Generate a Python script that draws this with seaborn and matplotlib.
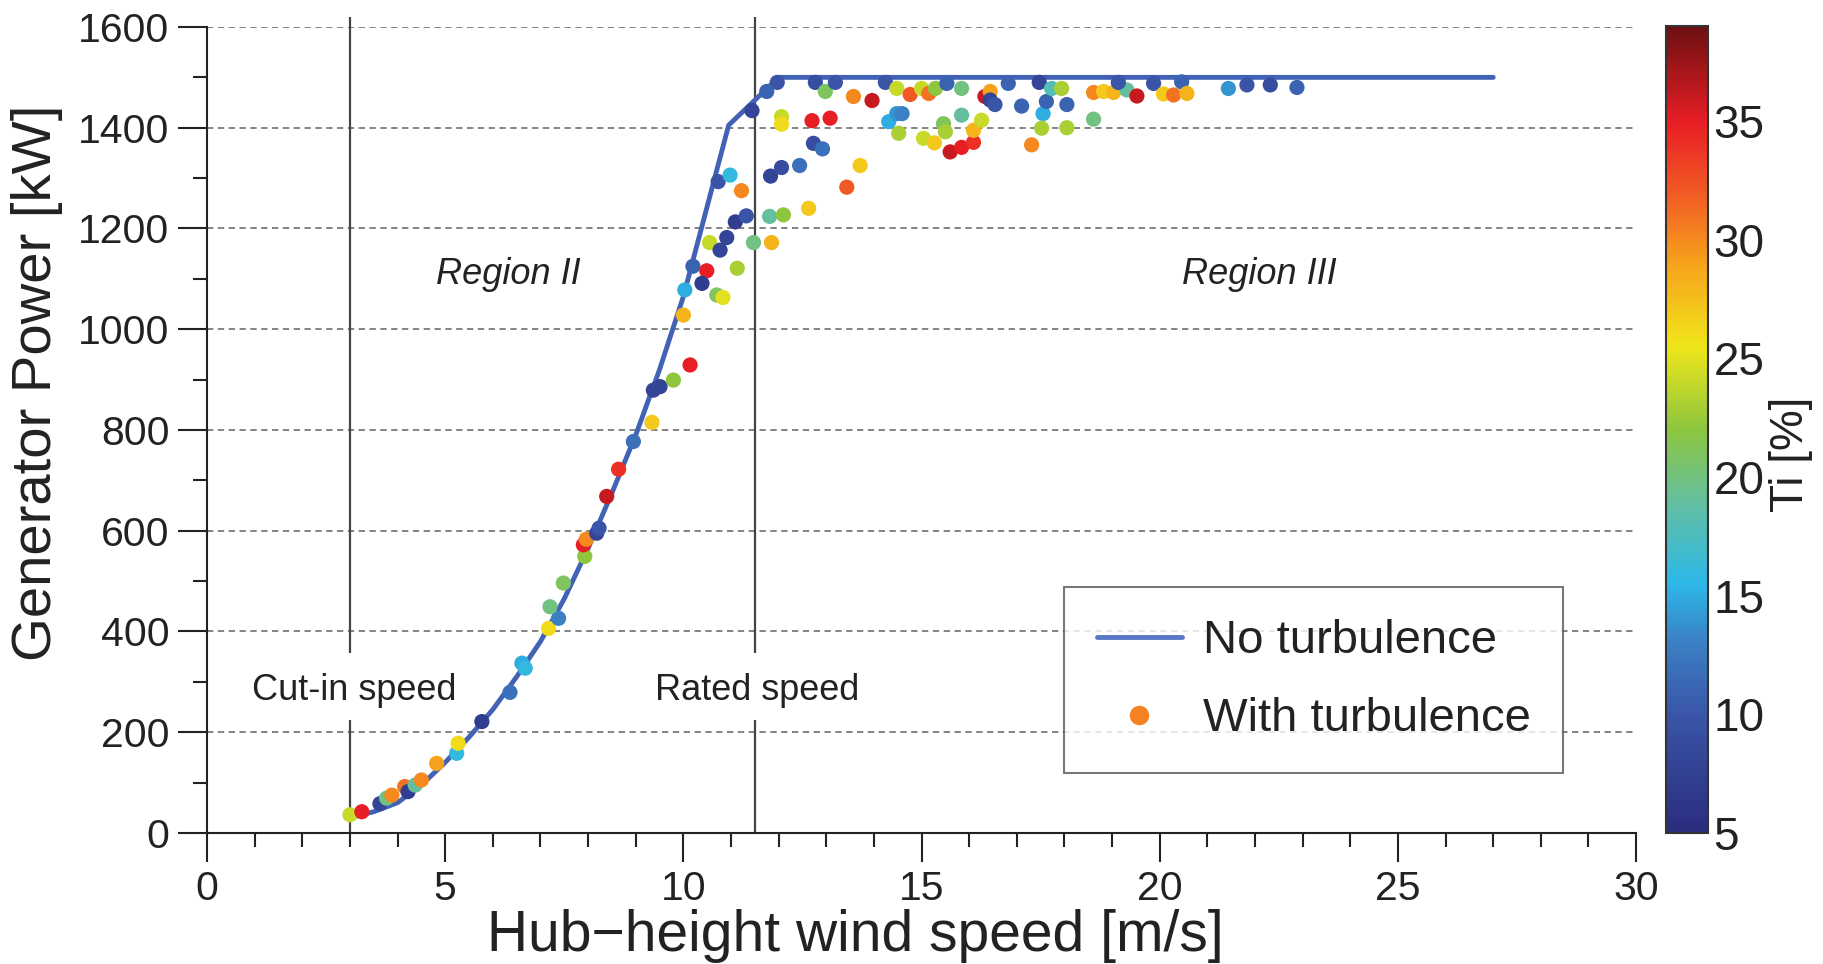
"""Generator power vs hub-height wind speed, coloured by turbulence intensity."""

import matplotlib
matplotlib.use("Agg")
import matplotlib.pyplot as plt
import numpy as np
import pandas as pd
import seaborn as sns
from matplotlib.cm import ScalarMappable
from matplotlib.colors import LinearSegmentedColormap, Normalize
from matplotlib.lines import Line2D
from matplotlib.ticker import MultipleLocator

# power curve without turbulence
curve_ws = [3, 3.5, 4, 4.5, 5, 5.5, 6, 6.5, 7, 7.5, 8, 8.5, 9, 9.5, 10, 10.95, 12, 27]
curve_kw = [30, 42, 60, 95, 140, 190, 245, 310, 380, 465, 565, 675, 790, 920, 1065, 1405, 1500, 1500]

# measured points with turbulence
wind_speed = [
    3.0, 3.25, 3.63, 3.77, 3.88, 4.15, 4.22, 4.37, 4.5, 4.82, 5.24, 5.27, 5.77, 6.36,
    6.61, 6.68, 7.17, 7.38, 7.2, 7.48, 7.93, 7.9, 7.96, 8.18, 8.23, 8.39, 8.64, 8.95,
    9.34, 9.37, 9.51, 9.79,
    10.0, 10.14, 10.03, 10.2, 10.49, 10.39, 10.55, 10.77, 10.91, 10.7, 10.83, 11.13,
    11.09, 11.32, 11.47, 11.85, 11.81, 12.1, 10.73, 10.98, 11.22, 11.44, 11.75, 11.97,
    12.06, 12.06, 11.83, 12.06, 12.44, 12.63, 12.73, 12.92, 12.7, 13.08, 12.77, 12.98,
    13.19, 13.43, 13.71, 13.57, 13.96, 14.24, 14.31, 14.48, 14.59, 14.48, 14.52, 14.76,
    15.0, 15.15, 15.29, 15.04, 15.27, 15.46, 15.5, 15.53, 15.6, 15.84, 16.09, 16.09,
    16.26, 15.84, 15.84, 16.33, 16.44, 16.44, 16.54, 16.82, 17.1, 17.31, 17.47, 17.55,
    17.62, 17.52, 17.73, 17.94, 18.05, 18.05, 18.61, 18.82, 19.03, 19.31, 19.52, 19.13,
    18.61, 19.87, 20.08, 20.29, 20.46, 20.57, 21.44, 21.83, 22.32, 22.88,
]
power = [
    36, 42, 58, 69, 75, 92, 82, 95, 105, 138, 158, 178, 221, 279,
    337, 327, 406, 426, 449, 496, 549, 572, 583, 595, 605, 668, 722, 777,
    815, 879, 886, 899,
    1028, 929, 1078, 1125, 1116, 1091, 1172, 1157, 1182, 1068, 1063, 1121,
    1213, 1225, 1172, 1172, 1224, 1227, 1293, 1306, 1275, 1434, 1472, 1490,
    1422, 1407, 1304, 1321, 1325, 1240, 1369, 1358, 1414, 1419, 1490, 1472,
    1490, 1282, 1325, 1462, 1454, 1490, 1412, 1428, 1428, 1478, 1389, 1466,
    1478, 1468, 1478, 1379, 1370, 1408, 1392, 1488, 1352, 1361, 1371, 1395,
    1415, 1478, 1425, 1462, 1472, 1455, 1446, 1488, 1443, 1366, 1490, 1428,
    1452, 1399, 1478, 1478, 1446, 1400, 1470, 1472, 1470, 1475, 1463, 1490,
    1417, 1488, 1467, 1465, 1491, 1468, 1478, 1485, 1485, 1480,
]
ti = [
    24, 35, 8, 20, 30, 31, 7, 19, 30, 29, 16, 26, 7, 12,
    15, 16, 26, 13, 20, 21, 22, 35, 30, 8, 10, 36, 34, 12,
    27, 8, 8, 22,
    28, 35, 15, 11, 35, 7, 24, 8, 8, 21, 25, 23,
    7, 10, 20, 28, 19, 22, 10, 16, 30, 8, 11, 10,
    24, 26, 8, 9, 12, 27, 9, 12, 35, 35, 9, 21,
    10, 32, 27, 30, 36, 10, 15, 14, 13, 24, 23, 32,
    24, 31, 22, 24, 27, 21, 23, 11, 36, 35, 34, 28,
    24, 20, 19, 36, 29, 8, 10, 11, 11, 30, 8, 15,
    11, 23, 18, 23, 11, 23, 30, 27, 28, 19, 36, 10,
    20, 10, 27, 31, 11, 28, 14, 10, 9, 11,
]

ti_ticks = [5, 10, 15, 20, 25, 30, 35]
ti_range = (5, 39)

curve_df = pd.DataFrame({"ws": curve_ws, "kw": curve_kw})
pts_df = pd.DataFrame({"ws": wind_speed, "kw": power, "ti": ti})

cmap = LinearSegmentedColormap.from_list("ti", [
    (0.0, "#2b2c7e"), (0.147, "#3a56a8"), (0.235, "#3b80c4"), (0.309, "#2cb8e8"),
    (0.41, "#64bfa0"), (0.5, "#8cc63f"), (0.603, "#f0e61a"), (0.706, "#f7a21c"),
    (0.794, "#f15a24"), (0.882, "#e81e25"), (1.0, "#6e1012"),
])
norm = Normalize(*ti_range)

sns.set_theme(style="white")
plt.rcParams["font.family"] = ["Liberation Sans", "DejaVu Sans"]
ink = "#222222"

fig = plt.figure(figsize=(18.24, 9.64), dpi=100)
ax = fig.add_axes([0.1135, 0.136, 0.7835, 0.836])
cax = fig.add_axes([0.9134, 0.136, 0.023, 0.837])

line_col = "#4262b6"
sns.lineplot(data=curve_df, x="ws", y="kw", sort=False, color=line_col, lw=3.5,
             ax=ax, zorder=2)
sns.scatterplot(data=pts_df, x="ws", y="kw", hue="ti", palette=cmap, hue_norm=ti_range,
                s=120, edgecolor="none", legend=False, ax=ax, zorder=3)

ax.set_xlim(0, 30)
ax.set_ylim(0, 1600)
ax.xaxis.set_major_locator(MultipleLocator(5))
ax.xaxis.set_minor_locator(MultipleLocator(1))
ax.yaxis.set_major_locator(MultipleLocator(200))
ax.yaxis.set_minor_locator(MultipleLocator(100))
ax.tick_params(which="major", direction="out", length=21, width=1.5, color=ink,
               labelsize=29.5, labelcolor=ink, pad=6, bottom=True, left=True)
ax.tick_params(which="minor", direction="out", length=10, width=1.5, color=ink,
               bottom=True, left=True)
for y in range(200, 1601, 200):
    ax.axhline(y, color="#7a7a7a", lw=1.3, ls=(0, (3.5, 2.5)), zorder=1)
for s in ["top", "right"]:
    ax.spines[s].set_visible(False)
for s in ["left", "bottom"]:
    ax.spines[s].set_color(ink)
    ax.spines[s].set_linewidth(1.5)

# cut-in and rated speed markers
for xv in [3, 11.5]:
    ax.vlines(xv, 357, 1620, color="#444444", lw=1.6, clip_on=False, zorder=1)
    ax.vlines(xv, 0, 224, color="#444444", lw=1.6, zorder=1)
ax.text(3.08, 283, "Cut-in speed", ha="center", va="center", fontsize=26, color=ink)
ax.text(11.55, 283, "Rated speed", ha="center", va="center", fontsize=26, color=ink)
ax.text(6.33, 1109, "Region II", ha="center", va="center", fontsize=26, style="italic", color=ink)
ax.text(22.1, 1109, "Region III", ha="center", va="center", fontsize=26, style="italic", color=ink)

ax.set_xlabel("Hub\u2212height wind speed [m/s]", fontsize=41, color=ink)
ax.xaxis.set_label_coords(0.4535, -0.128)
ax.xaxis.label.set_va("center")
ax.set_ylabel("Generator Power [kW]", fontsize=40.5, color=ink)
ax.yaxis.set_label_coords(-0.119, 0.558)
ax.yaxis.label.set_va("center")

handles = [
    Line2D([], [], color="#5a78c8", lw=3.5),
    Line2D([], [], color="#f58220", marker="o", ls="none", markersize=13),
]
leg = ax.legend(handles, ["No turbulence", "With turbulence"], loc="upper left",
                bbox_to_anchor=(0.600, 0.305), borderaxespad=0, fontsize=34,
                frameon=True, fancybox=False, borderpad=0.68, handlelength=1.8,
                handletextpad=0.45, labelspacing=0.72)
leg.get_frame().set_edgecolor("#555555")
leg.get_frame().set_linewidth(1.5)
for t in leg.get_texts():
    t.set_color(ink)

cb = fig.colorbar(ScalarMappable(norm=norm, cmap=cmap), cax=cax)
cb.set_ticks(ti_ticks)
cb.outline.set_edgecolor("#333333")
cb.outline.set_linewidth(1.5)
cax.tick_params(direction="in", length=8, width=1.3, color=ink, left=True, right=True,
                labelsize=33, labelcolor=ink, pad=4)
fig.text(0.982, 0.529, "Ti [%]", rotation=90, ha="center", va="center",
         fontsize=33, color=ink)

fig.savefig("out.png", dpi=100)
